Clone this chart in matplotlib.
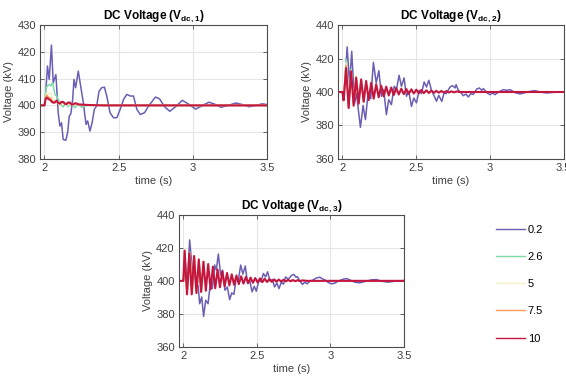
import numpy as np
import matplotlib
matplotlib.use('Agg')
import matplotlib.pyplot as plt
from matplotlib.ticker import FormatStrFormatter

plt.rcParams['font.family'] = ['Liberation Sans', 'DejaVu Sans']
plt.rcParams['mathtext.fontset'] = 'custom'
plt.rcParams['mathtext.rm'] = 'Liberation Sans'
plt.rcParams['mathtext.bf'] = 'Liberation Sans:bold'

labels = ['0.2', '2.6', '5', '7.5', '10']
colors = ['#6a5fb4', '#80dba6', '#f3f0c6', '#fc9c58', '#c4163f']

# ---- Vdc,1 ----
t1_02 = [1.97, 2.000, 2.009, 2.020, 2.032, 2.047, 2.059, 2.077, 2.093, 2.104, 2.115, 2.126, 2.144, 2.156,
         2.167, 2.178, 2.190, 2.199, 2.210, 2.228, 2.244, 2.262, 2.280, 2.291, 2.307, 2.321, 2.336, 2.352,
         2.368, 2.386, 2.404, 2.420, 2.442, 2.465, 2.488, 2.510, 2.533, 2.555, 2.578, 2.600, 2.623, 2.646,
         2.675, 2.702, 2.748, 2.775, 2.810, 2.845, 2.890, 2.929, 2.970, 3.019, 3.060, 3.109, 3.150, 3.190,
         3.240, 3.290, 3.335, 3.380, 3.425, 3.470, 3.500]
v1_02 = [400, 400, 405, 414.7, 409.7, 422.5, 408.4, 411.5, 397, 392.3, 393.5, 387.3, 387, 389.8,
         396, 396.9, 402.2, 409.7, 406.6, 412.8, 407.2, 401, 392.9, 394.2, 390.4, 393.5, 398.5, 399.8,
         405.3, 406.6, 406.8, 403.5, 397.3, 395.4, 395.4, 398.5, 402.2, 404.1, 403.5, 403.5, 398.5, 396.6,
         397.3, 399.8, 403.1, 402.5, 399.5, 397.8, 399.8, 401.9, 400.5, 398.6, 399.8, 401.2, 400.4, 399.3,
         400.0, 400.9, 400.3, 399.5, 400.0, 400.6, 400.3]
t1_26 = [1.97, 2.0, 2.006, 2.013, 2.022, 2.031, 2.043, 2.054, 2.062, 2.070, 2.082, 2.093, 2.110, 2.126,
         2.144, 2.160, 2.172, 2.183, 2.194, 2.205, 2.217, 2.228, 2.24, 2.251, 2.27, 2.3, 2.35, 3.5]
v1_26 = [400, 400, 404, 406.6, 407.5, 407.8, 407.2, 408.5, 406.5, 404.1, 403.5, 402.2, 400.4, 399.4,
         401, 399.5, 400.3, 400.7, 399.8, 399.1, 399.9, 400.2, 399.8, 399.3, 399.8, 400.0, 400.0, 400.0]
t1_hi = [1.97, 2.0, 2.008, 2.016, 2.028, 2.04, 2.05, 2.06, 2.07, 2.082, 2.093, 2.104, 2.115, 2.127,
         2.138, 2.149, 2.16, 2.172, 2.183, 2.194, 2.205, 2.217, 2.228, 2.25, 2.28, 2.32, 2.4, 3.5]
v1_5 = [400, 400, 403.5, 404.8, 404.2, 404.8, 403.5, 402.5, 401.0, 401.9, 400.8, 400.0, 401.2, 400.6,
        400.4, 400.8, 400.2, 400.5, 400.6, 400.1, 400.3, 400.5, 400.2, 400.2, 400.1, 400.0, 400.0, 400.0]
v1_75 = [400, 400, 403.0, 403.8, 403.0, 402.8, 401.8, 401.4, 401.2, 401.7, 400.8, 400.5, 401.2, 401.1,
         400.5, 400.6, 400.9, 400.8, 400.3, 400.4, 400.7, 400.6, 400.3, 400.2, 400.2, 400.1, 400.0, 400.0]
v1_10 = [400, 400, 402.5, 402.9, 402.3, 402.0, 401.3, 401.0, 401.1, 401.8, 400.9, 400.7, 401.3, 401.3,
         400.6, 400.5, 401.1, 401.0, 400.4, 400.4, 400.8, 400.7, 400.4, 400.3, 400.2, 400.1, 400.0, 400.0]

# ---- Vdc,2 ----
t2_02 = [1.97, 2.0, 2.009, 2.032, 2.048, 2.063, 2.082, 2.095, 2.122, 2.140, 2.156, 2.174, 2.192, 2.210,
         2.229, 2.247, 2.265, 2.280, 2.298, 2.314, 2.332, 2.351, 2.366, 2.384, 2.400, 2.418, 2.434, 2.450,
         2.468, 2.484, 2.502, 2.520, 2.536, 2.554, 2.570, 2.586, 2.604, 2.620, 2.638, 2.653, 2.674, 2.689,
         2.703, 2.730, 2.747, 2.764, 2.771, 2.786, 2.800, 2.820, 2.838, 2.854, 2.870, 2.888, 2.911, 2.929,
         2.945, 2.956, 2.979, 3.000, 3.019, 3.035, 3.058, 3.092, 3.115, 3.137, 3.171, 3.205, 3.228, 3.273,
         3.307, 3.340, 3.386, 3.430, 3.500]
v2_02 = [400, 400, 396, 426.9, 405, 424.3, 393, 399, 378.9, 392, 383.5, 399.4, 396, 417.7,
         405.4, 412.7, 397.4, 401.4, 386.5, 395.4, 392.4, 403.4, 401.4, 410.0, 403.4, 408.4, 397.4, 400.4,
         391.4, 396.4, 393.5, 401, 399, 406, 403, 407, 401, 398, 394.5, 398, 394.4, 399.4,
         399.0, 403.0, 403.8, 402.4, 404.4, 401.0, 400.0, 397.8, 398.8, 397.0, 399.0, 398.6, 401.8, 402.4,
         401.0, 402.0, 399.6, 398.4, 399.4, 398.4, 400.0, 401.4, 401.0, 401.4, 399.6, 398.8, 399.4, 400.4,
         400.8, 400.0, 399.4, 399.8, 400.0]
t2_hi = [1.97, 2.0, 2.008, 2.025, 2.042, 2.059, 2.076, 2.093, 2.110, 2.127, 2.144, 2.161]
v2_26 = [400, 400, 395.5, 419.5, 391.5, 413.5, 393.0, 409.0, 394.8, 407.5, 394.2, 406.5]
v2_5 = [400, 400, 395.3, 417.5, 391.0, 413.0, 392.5, 409.5, 393.8, 407.5, 394.2, 406.5]
v2_75 = [400, 400, 395.1, 416.0, 390.7, 412.7, 392.1, 409.0, 393.4, 407.5, 394.2, 406.5]
t2_10 = [1.97, 2.0, 2.008, 2.025, 2.042, 2.059, 2.076, 2.093, 2.110, 2.127, 2.144, 2.161, 2.178, 2.195,
         2.212, 2.229, 2.246, 2.263, 2.280, 2.297, 2.314, 2.331, 2.348, 2.365, 2.382, 2.399, 2.416, 2.433,
         2.450, 2.467, 2.484, 2.501, 2.518, 2.535, 2.552, 2.569, 2.586, 2.603, 2.620, 2.637, 2.654, 2.671,
         2.688, 2.705, 2.722, 2.739, 2.756, 2.773, 2.80, 3.5]
v2_10 = [400, 400, 395, 414.3, 390.4, 412.3, 391.8, 408.5, 393.0, 407.5, 394.2, 406.5, 395.2, 405.5,
         396.0, 404.6, 396.8, 403.8, 397.4, 403.2, 397.9, 402.7, 398.2, 402.3, 398.5, 402.0, 398.7, 401.8,
         398.9, 401.6, 399.1, 401.4, 399.2, 401.2, 399.3, 401.0, 399.4, 400.9, 399.5, 400.7, 399.6, 400.6,
         399.7, 400.5, 399.7, 400.4, 399.8, 400.3, 400.0, 400.0]

# ---- Vdc,3 ----
t3_02 = [1.97, 2.0, 2.011, 2.027, 2.043, 2.061, 2.072, 2.088, 2.100, 2.111, 2.125, 2.138, 2.152, 2.168,
         2.181, 2.197, 2.213, 2.224, 2.238, 2.254, 2.267, 2.283, 2.299, 2.315, 2.329, 2.344, 2.360, 2.374,
         2.390, 2.405, 2.421, 2.437, 2.451, 2.467, 2.482, 2.496, 2.514, 2.528, 2.544, 2.559, 2.573, 2.589,
         2.605, 2.620, 2.636, 2.650, 2.666, 2.681, 2.695, 2.713, 2.736, 2.752, 2.766, 2.775, 2.793, 2.810,
         2.826, 2.842, 2.860, 2.883, 2.905, 2.928, 2.946, 2.962, 2.985, 3.007, 3.030, 3.052, 3.086, 3.109,
         3.131, 3.165, 3.199, 3.233, 3.278, 3.312, 3.346, 3.391, 3.436, 3.500]
v3_02 = [400, 400, 405, 397, 424.9, 406.5, 408.6, 396.3, 397.3, 386.1, 390.2, 378.4, 388.2, 386.1,
         396.3, 395.3, 409.6, 406.5, 416.3, 403.5, 406.5, 394.3, 396.3, 388.6, 392.7, 391.8, 402.0, 400.4,
         409.6, 404.1, 409.0, 398.4, 400.4, 393.3, 396.7, 393.7, 400.4, 399.4, 404.5, 402.4, 405.5, 400.0,
         400.8, 396.3, 398.7, 395.3, 399.1, 398.0, 402.4, 401.0, 403.3, 403.9, 402.2, 402.6, 399.8, 397.8,
         399.2, 398.2, 399.8, 400.6, 401.8, 402.2, 401.2, 400.6, 399.0, 398.2, 398.6, 399.8, 401.0, 401.4,
         400.6, 399.2, 398.8, 399.6, 400.6, 400.8, 399.8, 399.2, 399.8, 400.2]
t3_hi = [1.97, 2.0, 2.009, 2.025, 2.045, 2.060, 2.075, 2.091, 2.107, 2.121, 2.137]
v3_26 = [400, 400, 417.0, 392.5, 417.5, 393.0, 414.0, 393.5, 412.0, 393.3, 411.6]
v3_5 = [400, 400, 417.5, 392.2, 416.5, 392.8, 414.5, 393.2, 412.5, 393.3, 411.6]
v3_75 = [400, 400, 418.0, 392.0, 416.8, 392.2, 415.0, 392.8, 413.0, 393.3, 411.6]
t3_10 = [1.97, 2.0, 2.009, 2.025, 2.041, 2.057, 2.073, 2.089, 2.105, 2.121, 2.137, 2.153, 2.169, 2.185,
         2.201, 2.217, 2.233, 2.249, 2.265, 2.281, 2.297, 2.313, 2.329, 2.345, 2.361, 2.377, 2.393, 2.409,
         2.425, 2.441, 2.457, 2.473, 2.489, 2.505, 2.521, 2.537, 2.553, 2.569, 2.585, 2.601, 2.617, 2.633,
         2.649, 2.665, 2.681, 2.697, 2.713, 2.729, 2.745, 2.761, 2.777, 2.793, 2.809, 2.84, 3.5]
v3_10 = [400, 400, 418.4, 391.8, 416.7, 391.8, 415.1, 392.6, 413.0, 393.3, 411.6, 394.0, 410.2, 394.8,
         408.6, 395.5, 406.9, 396.1, 405.8, 396.7, 404.8, 397.2, 404.0, 397.6, 403.3, 398.0, 402.8, 398.3,
         402.4, 398.6, 402.0, 398.8, 401.7, 399.0, 401.5, 399.2, 401.3, 399.3, 401.1, 399.4, 400.9, 399.5,
         400.8, 399.6, 400.7, 399.7, 400.6, 399.75, 400.5, 399.8, 400.4, 399.85, 400.3, 400.0, 400.0]

panels = [
    ('1', [(t1_02, v1_02), (t1_26, v1_26), (t1_hi, v1_5), (t1_hi, v1_75), (t1_hi, v1_10)],
     (380, 430), [380, 390, 400, 410, 420, 430], [0.0707, 0.5816, 0.4010, 0.3526]),
    ('2', [(t2_02, v2_02), (t2_hi, v2_26), (t2_hi, v2_5), (t2_hi, v2_75), (t2_10, v2_10)],
     (360, 440), [360, 380, 400, 420, 440], [0.5972, 0.5816, 0.3986, 0.3526]),
    ('3', [(t3_02, v3_02), (t3_hi, v3_26), (t3_hi, v3_5), (t3_hi, v3_75), (t3_10, v3_10)],
     (360, 440), [360, 380, 400, 420, 440], [0.3161, 0.0876, 0.3977, 0.3466]),
]

fig = plt.figure(figsize=(5.66, 3.80), dpi=100)
handles = []
for idx, series, ylim, yticks, pos in panels:
    ax = fig.add_axes(pos)
    for k, (t, v) in enumerate(series):
        lw = 1.5 if k == 4 else 1.1
        h, = ax.plot(t, v, color=colors[k], lw=lw)
        if idx == '1':
            handles.append(h)
    ax.set_xlim(1.97, 3.5)
    ax.set_ylim(*ylim)
    ax.set_xticks([2, 2.5, 3, 3.5])
    ax.xaxis.set_major_formatter(FormatStrFormatter('%g'))
    ax.set_yticks(yticks)
    ax.grid(True, color='#e6e6e6', lw=0.8)
    ax.set_axisbelow(True)
    for s in ax.spines.values():
        s.set_color('#4d4d4d')
        s.set_linewidth(0.8)
    ax.tick_params(direction='in', top=True, right=True, length=3, width=0.6,
                   labelsize=8, colors='#4d4d4d', labelcolor='#404040', pad=3)
    ax.set_xlabel('time (s)', fontsize=8, color='#404040', labelpad=2)
    ax.set_ylabel('Voltage (kV)', fontsize=8, color='#404040', labelpad=2)
    ax.set_title('DC Voltage (V$_{\\mathbf{dc,%s}}$)' % idx, fontsize=8.5,
                 fontweight='bold', pad=4)

leg = fig.legend(handles, labels, loc='upper left', bbox_to_anchor=(0.858, 0.435),
                 frameon=False, fontsize=8, handlelength=2.6, handletextpad=0.3,
                 labelspacing=1.55)
for line in leg.get_lines():
    line.set_linewidth(1.0)

fig.savefig('out.png', dpi=100)
